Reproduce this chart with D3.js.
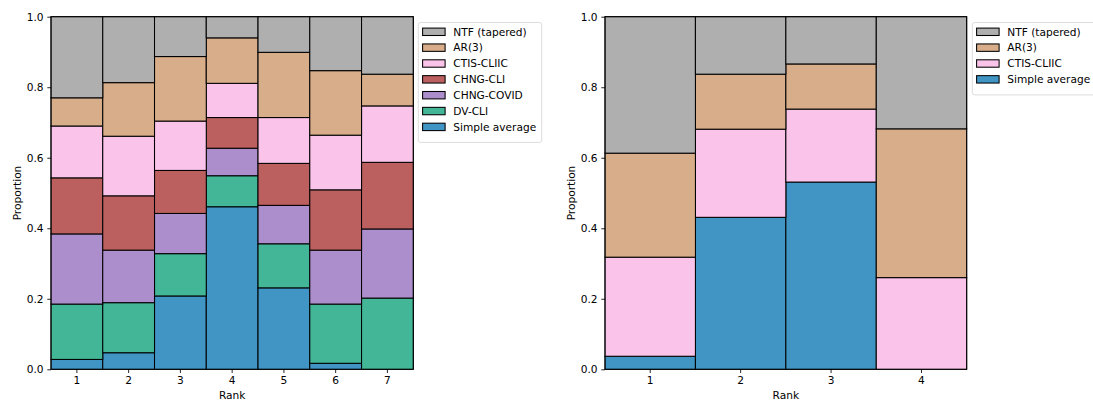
<!DOCTYPE html>
<html><head><meta charset="utf-8">
<script src="https://cdn.jsdelivr.net/npm/d3@7"></script>
<style>body{margin:0;background:#fff}svg{display:block}text{font-family:"DejaVu Sans",sans-serif;fill:#000}</style>
</head><body><svg id="c" width="1093" height="400"></svg>
<script>
// ---- data ----
const ranksLeft = ["1","2","3","4","5","6","7"];
const seriesLeft = ["Simple average","DV-CLI","CHNG-COVID","CHNG-CLI","CTIS-CLIIC","AR(3)","NTF (tapered)"];
const simpleAvgL = [0.028,0.047,0.208,0.461,0.231,0.017,0.000];
const dvCliL     = [0.157,0.142,0.120,0.088,0.125,0.168,0.202];
const chngCovidL = [0.199,0.149,0.114,0.078,0.109,0.153,0.196];
const chngCliL   = [0.159,0.154,0.122,0.087,0.119,0.171,0.189];
const ctisL      = [0.147,0.169,0.140,0.097,0.130,0.155,0.160];
const ar3L       = [0.080,0.152,0.183,0.129,0.185,0.183,0.090];
const ntfL       = [0.230,0.187,0.113,0.060,0.101,0.153,0.163];

const ranksRight = ["1","2","3","4"];
const seriesRight = ["Simple average","CTIS-CLIIC","AR(3)","NTF (tapered)"];
const simpleAvgR = [0.037,0.431,0.531,0.000];
const ctisR      = [0.281,0.250,0.207,0.260];
const ar3R       = [0.295,0.156,0.128,0.422];
const ntfR       = [0.387,0.163,0.134,0.318];

const yTicks = [0,0.2,0.4,0.6,0.8,1.0];
const colors = {
  "NTF (tapered)":"#afafaf","AR(3)":"#d8ad89","CTIS-CLIIC":"#fac3ea",
  "CHNG-CLI":"#bc605f","CHNG-COVID":"#ad8ecc","DV-CLI":"#42b696","Simple average":"#4095c5"
};

const svg = d3.select("#c");
const FS = 10.6;

function panel(ranks, series, valuesBySeries, box, legendBox){
  const rows = ranks.map((r,i)=>{const o={rank:r}; series.forEach((s,j)=>o[s]=valuesBySeries[j][i]); return o;});
  const stacked = d3.stack().keys(series)(rows);
  const x = d3.scaleBand().domain(ranks).range([box.x0,box.x1]).padding(0);
  const y = d3.scaleLinear().domain([0,1]).range([box.y1,box.y0]);
  const g = svg.append("g");
  stacked.forEach(layer=>{
    g.append("g").selectAll("rect").data(layer.filter(d=>d[1]-d[0]>0)).join("rect")
      .attr("x",d=>x(d.data.rank)).attr("width",x.bandwidth())
      .attr("y",d=>y(d[1])).attr("height",d=>y(d[0])-y(d[1]))
      .attr("fill",colors[layer.key]).attr("stroke","#000").attr("stroke-width",1.05);
  });
  // frame
  g.append("rect").attr("x",box.x0).attr("y",box.y0).attr("width",box.x1-box.x0).attr("height",box.y1-box.y0)
    .attr("fill","none").attr("stroke","#000").attr("stroke-width",0.85);
  const ya = d3.axisLeft(y).tickValues(yTicks).tickFormat(d3.format(".1f")).tickSize(3.7).tickPadding(3.7);
  const ga = g.append("g").attr("transform",`translate(${box.x0},0)`).call(ya);
  const xa = d3.axisBottom(x).tickSize(3.7).tickPadding(3.5);
  const gx = g.append("g").attr("transform",`translate(0,${box.y1})`).call(xa);
  [ga,gx].forEach(a=>{a.select(".domain").remove(); a.selectAll("line").attr("stroke","#000").attr("stroke-width",0.85);
    a.selectAll("text").style("font-family","DejaVu Sans").style("font-size",FS+"px").attr("fill","#000");});
  g.append("text").attr("x",(box.x0+box.x1)/2).attr("y",399).attr("text-anchor","middle").style("font-size",FS+"px").text("Rank");
  g.append("text").attr("transform",`translate(${box.x0-30},${(box.y0+box.y1)/2}) rotate(-90)`).attr("text-anchor","middle").style("font-size",FS+"px").text("Proportion");
  // legend
  const order = series.slice().reverse();
  const L = g.append("g");
  const rowH = 15.85;
  L.append("rect").attr("x",legendBox.x).attr("y",legendBox.y).attr("width",legendBox.w).attr("height",order.length*rowH+9)
    .attr("rx",2.5).attr("fill","#fff").attr("fill-opacity",0.8).attr("stroke","#d6d6d6").attr("stroke-width",0.85);
  order.forEach((s,i)=>{
    const cy = legendBox.y+9.2+i*rowH;
    L.append("rect").attr("x",legendBox.x+4.3).attr("y",cy-3.6).attr("width",22.5).attr("height",7.4)
      .attr("fill",colors[s]).attr("stroke","#000").attr("stroke-width",1.05);
    L.append("text").attr("x",legendBox.x+35).attr("y",cy+3.8).style("font-size",FS+"px").text(s);
  });
}

panel(ranksLeft, seriesLeft, [simpleAvgL,dvCliL,chngCovidL,chngCliL,ctisL,ar3L,ntfL],
  {x0:51,x1:413.3,y0:16.7,y1:369.3},{x:418.3,y:22.5,w:123.4});
panel(ranksRight, seriesRight, [simpleAvgR,ctisR,ar3R,ntfR],
  {x0:605,x1:966.7,y0:16.7,y1:369.3},{x:972.3,y:22.5,w:125});
</script></body></html>
